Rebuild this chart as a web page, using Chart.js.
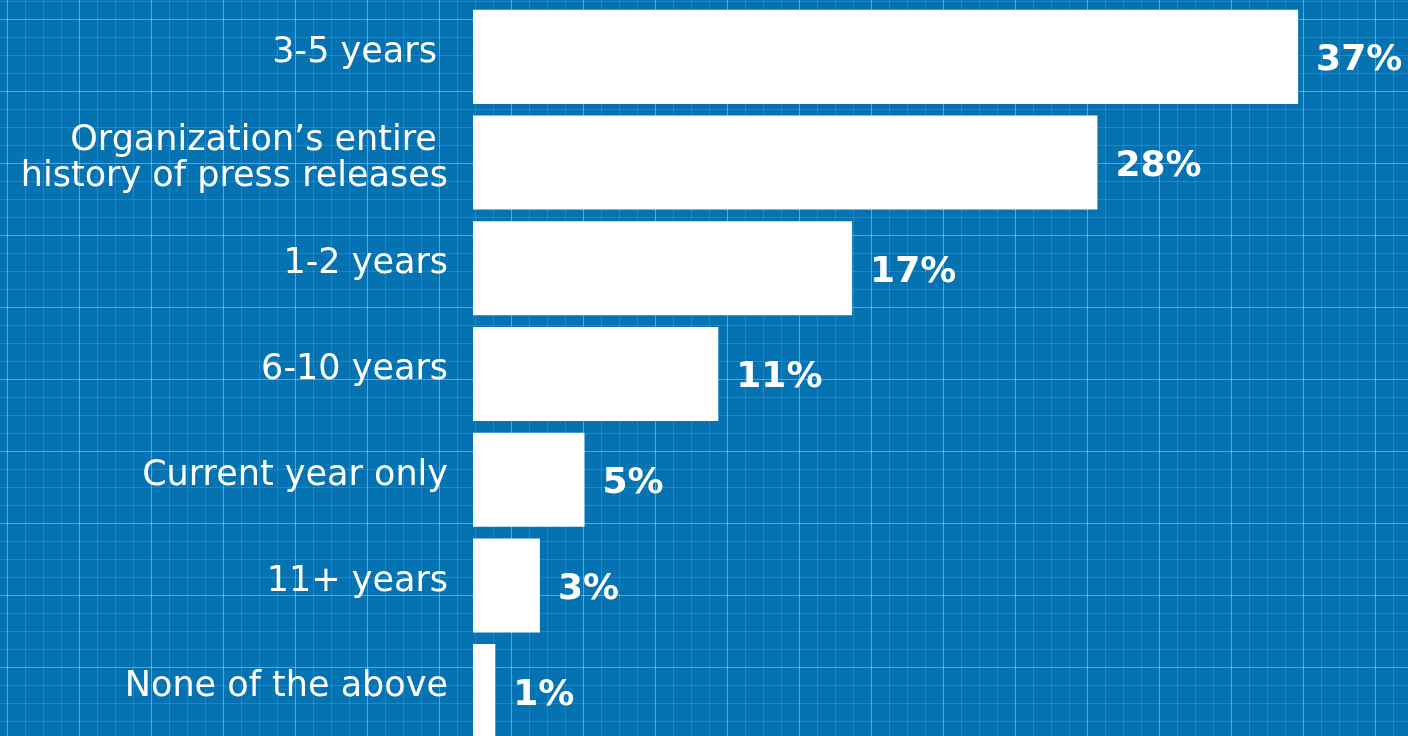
<!DOCTYPE html>
<html>
<head>
<meta charset="utf-8">
<script src="https://cdn.jsdelivr.net/npm/chart.js@4"></script>
<style>
  html, body {
    margin: 0;
    padding: 0;
    width: 1408px;
    height: 736px;
    overflow: hidden;
  }
  body {
    background-color: #0572b2;
    background-image:
      linear-gradient(to right, rgba(255,255,255,0.26) 1px, transparent 1px),
      linear-gradient(to bottom, rgba(255,255,255,0.26) 1px, transparent 1px),
      linear-gradient(to right, rgba(255,255,255,0.13) 1px, transparent 1px),
      linear-gradient(to bottom, rgba(255,255,255,0.13) 1px, transparent 1px);
    background-size: 72px 72px, 72px 72px, 18px 18px, 18px 18px;
    background-position: 79px 0, 0 19px, 7px 0, 0 1px;
  }
  canvas { display: block; }
</style>
</head>
<body>
<canvas id="retention-chart" width="1408" height="744"></canvas>
<script>
// share of respondents, by how far back the online newsroom keeps press releases
const categories = [
  '3-5 years ',
  ['Organization\u2019s entire ', 'history of press releases'],
  '1-2 years',
  '6-10 years',
  'Current year only',
  '11+ years',
  'None of the above'
];
const shares = [37, 28, 17, 11, 5, 3, 1];

const FONT = "'DejaVu Sans', sans-serif";

// draws "37%" etc. just right of each bar
const valueLabels = {
  id: 'valueLabels',
  afterDatasetsDraw(chart) {
    const ctx = chart.ctx;
    const meta = chart.getDatasetMeta(0);
    ctx.save();
    ctx.fillStyle = '#ffffff';
    ctx.font = 'bold 36px ' + FONT;
    ctx.textAlign = 'left';
    ctx.textBaseline = 'middle';
    meta.data.forEach((bar, i) => {
      ctx.fillText(shares[i] + '%', bar.x + 18, bar.y + 4);
    });
    ctx.restore();
  }
};

let ctx = document.getElementById('retention-chart');

let chart = new Chart(ctx, {
  type: 'bar',
  data: {
    labels: categories,
    datasets: [{
      data: shares,
      backgroundColor: '#ffffff',
      borderWidth: 0,
      barPercentage: 0.89,
      categoryPercentage: 1
    }]
  },
  options: {
    indexAxis: 'y',
    responsive: false,
    devicePixelRatio: 1,
    animation: false,
    layout: {
      padding: { left: 0, right: 43, top: 4, bottom: 0 }
    },
    plugins: {
      legend: { display: false },
      tooltip: { enabled: false }
    },
    scales: {
      x: {
        display: false,
        min: 0,
        max: 40
      },
      y: {
        afterFit(scale) {
          scale.width = 473;
          scale.paddingTop = 0;
          scale.paddingBottom = 0;
        },
        grid: { display: false, drawTicks: false },
        border: { display: false },
        ticks: {
          color: '#ffffff',
          padding: 25,
          labelOffset: -4,
          font: { family: FONT, size: 35, lineHeight: 1.03 }
        }
      }
    }
  },
  plugins: [valueLabels]
});
</script>
</body>
</html>
